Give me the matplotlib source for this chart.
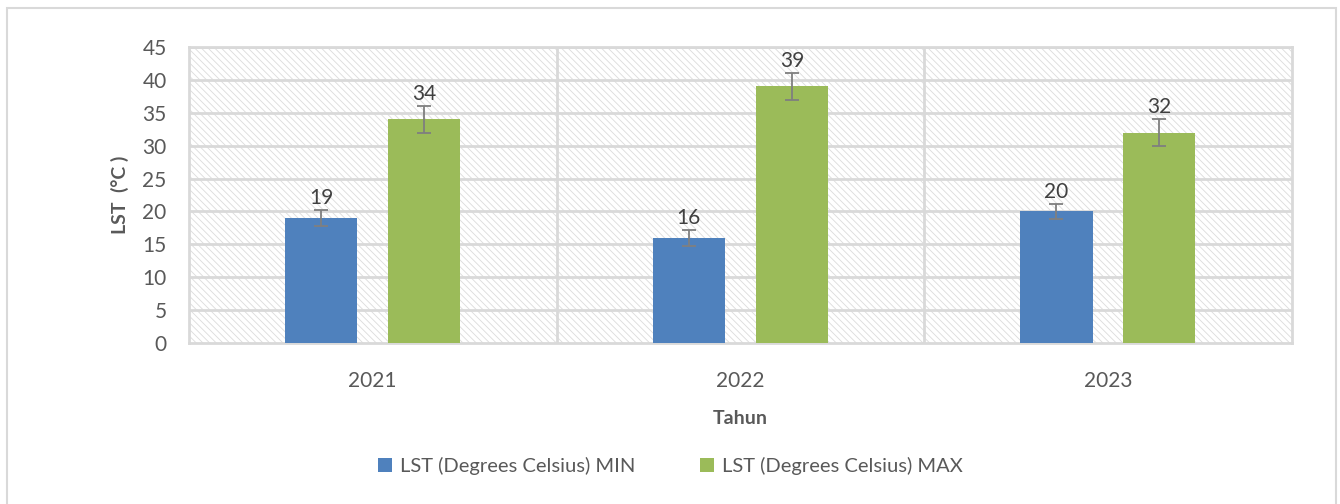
import matplotlib
matplotlib.use("Agg")
import matplotlib.pyplot as plt
import numpy as np
from matplotlib.patches import Rectangle

# ── Data ───────────────────────────────────────────────────────────────────
years = ["2021", "2022", "2023"]
lst_min = [19, 16, 20]
lst_max = [34, 39, 32]
err_min = [1.2, 1.2, 1.2]
err_max = [2.1, 2.1, 2.1]

BLUE = "#4F81BD"
GREEN = "#9BBB59"
GRID = "#D9D9D9"
TEXT = "#595959"

plt.rcParams["font.family"] = ["Lato", "DejaVu Sans"]
plt.rcParams["hatch.color"] = "#DCDCDC"
plt.rcParams["hatch.linewidth"] = 0.6

fig = plt.figure(figsize=(13.4, 5.04), dpi=100)
ax = fig.add_axes([0.141, 0.3194, 0.823, 0.5873])

# outer chart border
fig.patches.append(Rectangle((0.005, -0.02), 0.992, 1.005, transform=fig.transFigure,
                             fill=False, edgecolor=GRID, linewidth=1.5))

# hatched plot area
ax.add_patch(Rectangle((0, 0), 1, 1, transform=ax.transAxes, facecolor="white",
                       edgecolor="#DCDCDC", hatch="\\\\\\\\\\", linewidth=0, zorder=0))

x = np.arange(len(years))
w = 0.196
off = 0.14
ax.bar(x - off, lst_min, w, color=BLUE, zorder=3, label="LST (Degrees Celsius) MIN")
ax.bar(x + off, lst_max, w, color=GREEN, zorder=3, label="LST (Degrees Celsius) MAX")
ax.errorbar(x - off, lst_min, yerr=err_min, fmt="none", ecolor="#7F7F7F",
            elinewidth=1.3, capsize=5, capthick=1.3, zorder=4)
ax.errorbar(x + off, lst_max, yerr=err_max, fmt="none", ecolor="#7F7F7F",
            elinewidth=1.3, capsize=5, capthick=1.3, zorder=4)

for xi, v, e in zip(x - off, lst_min, err_min):
    ax.text(xi, v + e + 0.3, str(v), ha="center", va="bottom", fontsize=15, color="#404040", zorder=5)
for xi, v, e in zip(x + off, lst_max, err_max):
    ax.text(xi, v + e + 0.3, str(v), ha="center", va="bottom", fontsize=15, color="#404040", zorder=5)

ax.set_xlim(-0.5, 2.5)
ax.set_ylim(0, 45)
ax.set_yticks(range(0, 46, 5))
ax.set_xticks(x)
ax.set_xticklabels(years)

for y in range(5, 46, 5):
    ax.axhline(y, color=GRID, linewidth=2, zorder=1)
for b in [0.5, 1.5]:
    ax.axvline(b, color=GRID, linewidth=2, zorder=1)

for s in ax.spines.values():
    s.set_color(GRID)
    s.set_linewidth(2)
ax.tick_params(length=0, labelsize=15, labelcolor=TEXT)
ax.tick_params(axis="y", pad=16)
ax.tick_params(axis="x", pad=20)

ax.set_ylabel("LST  (°C )", fontsize=14, fontweight="bold", color=TEXT, labelpad=10)
ax.set_xlabel("Tahun", fontsize=14, fontweight="bold", color=TEXT, labelpad=14)

fig.legend(loc="center", bbox_to_anchor=(0.5, 0.075), ncol=2, frameon=False,
           fontsize=14.5, labelcolor=TEXT, handlelength=0.7, handleheight=0.7,
           handletextpad=0.4, columnspacing=3.2)

fig.savefig("out.png", dpi=100, facecolor="white")
